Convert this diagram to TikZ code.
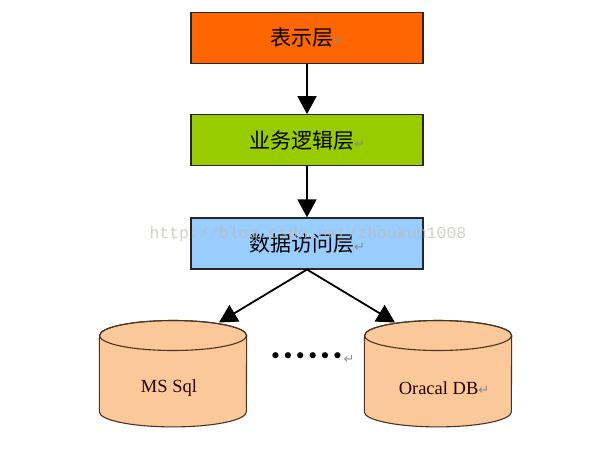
\documentclass[tikz,border=0pt]{standalone}
\usepackage{fontspec}
\setmainfont{Liberation Serif}
\newfontfamily\cjk{Noto Sans CJK SC}
\newfontfamily\symfont{DejaVu Sans}
\newfontfamily\wmfont{Liberation Mono}
\usepackage{tikz}
\usetikzlibrary{arrows.meta,positioning,calc}
\definecolor{uilayer}{HTML}{FF6600}
\definecolor{bizlayer}{HTML}{99CC00}
\definecolor{dallayer}{HTML}{99CCFF}
\definecolor{dbfill}{HTML}{FBC899}
\definecolor{dbline}{HTML}{4A3424}
\definecolor{retc}{HTML}{8C8C8C}
\definecolor{wmark}{HTML}{BDBDB2}
\newcommand{\ret}{{\symfont\fontsize{13}{13}\selectfont\textcolor{retc}{↵}}}
\newcommand{\dbrx}{73.5pt}
% cylinder drawn round an empty node
\newcommand{\dbcyl}[1]{%
  \filldraw[dbody] ($(#1.north west)+(0,-15pt)$) -- ($(#1.south west)+(0,15pt)$)
    arc[start angle=180,end angle=360,x radius=\dbrx,y radius=15pt]
    -- ($(#1.north east)+(0,-15pt)$)
    arc[start angle=0,end angle=180,x radius=\dbrx,y radius=15pt] -- cycle;
  \draw[dbody,fill=none] ($(#1.north)+(0,-15pt)$) ellipse[x radius=\dbrx,y radius=15pt];}
\tikzset{
  layer/.style={draw=black!85,line width=1.2pt,minimum width=232pt,minimum height=51pt,
    inner sep=0pt,font=\cjk\fontsize{21}{21}\selectfont},
  dbnode/.style={minimum width=147pt,minimum height=106pt,inner sep=0pt},
  dbody/.style={draw=dbline,line width=1.1pt,fill=dbfill},
  dblabel/.style={font=\fontsize{18.5}{18.5}\selectfont,text=black!85!red},
  flow/.style={-{Triangle[length=18pt,width=19pt]},line width=1.8pt},
  watermark/.style={font=\wmfont\fontsize{16.5}{16.5}\selectfont,text=wmark,opacity=0.7},
}
\begin{document}
\begin{tikzpicture}[x=1pt,y=1pt,node distance=50pt]
  \useasboundingbox (0,0) rectangle (599,-448);
  \node[layer,fill=uilayer] (ui) at (307,-38) {表示层\ret};
  \node[layer,fill=bizlayer,below=of ui] (biz) {业务逻辑层\ret};
  \node[layer,fill=dallayer,below=51pt of biz] (dal) {数据访问层\ret};
  \draw[flow] (ui) -- (biz);
  \draw[flow] (biz) -- (dal);
  % the two databases
  \node[dbnode,below=51pt of dal,xshift=-134pt] (mssql) {};
  \node[dbnode,below=51pt of dal,xshift=131pt] (oracle) {};
  \dbcyl{mssql}
  \dbcyl{oracle}
  \node[dblabel] (mssqlname) at ($(mssql.center)+(-4pt,-14pt)$) {MS Sql};
  \node[dblabel] (oraclename) at ($(oracle.center)+(6pt,-14pt)$) {Oracal DB\ret};
  \coordinate (msin) at ($(mssql.north)+(46pt,-2pt)$);
  \coordinate (orain) at ($(oracle.north)+(-43pt,-2pt)$);
  \draw[flow] (dal.south) -- (msin);
  \draw[flow] (dal.south) -- (orain);
  \node[font=\symfont\fontsize{21}{21}\selectfont] (more) at (312,-358) {••••••\ret};
  \node[watermark,anchor=west] (wm) at (146,-234) {http://blog.csdn.net/zhoukun1008};
\end{tikzpicture}
\end{document}
